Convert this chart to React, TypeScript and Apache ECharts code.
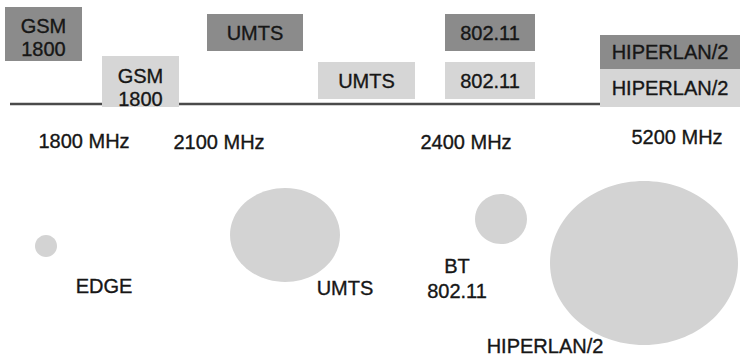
import React, { useEffect, useRef } from "react";
import * as echarts from "echarts";

// Frequency band boxes (diagram units: x 0..740, y 0..358 from top)
const boxLabels = ["GSM\n1800", "GSM\n1800", "UMTS", "UMTS", "802.11", "802.11", "HIPERLAN/2", "HIPERLAN/2"];
const boxTier = [0, 1, 0, 1, 0, 1, 0, 1]; // 0 = upper (dark), 1 = lower (light)
const boxX0 = [5, 102, 207, 318, 445, 445, 600, 600];
const boxX1 = [82, 179, 303, 415, 535, 535, 740, 740];
const boxY0 = [7, 56, 14, 62, 14, 62, 35, 69];
const boxY1 = [61, 107, 51, 99, 51, 99, 69, 107];
const boxTextY = [37, 87, 33, 81, 33, 81, 52, 88];

// Baseline
const baseX = [10, 600];
const baseY = [104, 104];

// Frequency labels
const freqLabels = ["1800 MHz", "2100 MHz", "2400 MHz", "5200 MHz"];
const freqX = [84, 219, 466, 677];
const freqY = [141, 142, 142, 137];

// Coverage cells
const cellCx = [46, 285, 501, 644];
const cellCy = [246, 235, 219, 263];
const cellRx = [11, 55, 26, 94];
const cellRy = [11, 47, 25, 82];

// Cell labels
const cellLabels = ["EDGE", "UMTS", "BT\n802.11", "HIPERLAN/2"];
const cellLabelX = [104, 345, 457, 545];
const cellLabelY = [286, 288, 278, 346];

const FONT = "'Liberation Sans', Arial, Helvetica, sans-serif";
const TEXT_COLOR = "#161616";

export default function App() {
  const ref = useRef<HTMLDivElement>(null);
  useEffect(() => {
    if (!ref.current) return;
    const chart = echarts.init(ref.current, undefined, { renderer: "svg" });
    const boxData = boxLabels.map((l, i) => [boxX0[i], boxY0[i], boxX1[i], boxY1[i], boxTier[i], boxTextY[i], i]);
    const cellData = cellCx.map((c, i) => [c, cellCy[i], cellRx[i], cellRy[i]]);
    const freqData = freqLabels.map((l, i) => [freqX[i], freqY[i], i]);
    const cellLabelData = cellLabels.map((l, i) => [cellLabelX[i], cellLabelY[i], i]);

    const textStyle = {
      align: "center",
      verticalAlign: "middle",
      fontSize: 20,
      fontFamily: FONT,
      fill: TEXT_COLOR,
      stroke: TEXT_COLOR,
      lineWidth: 0.35,
    };

    const textItem = (labels: string[]) => (params: any, api: any) => {
      const p = api.coord([api.value(0), api.value(1)]);
      const idx = api.value(2);
      return {
        type: "text",
        style: { ...textStyle, text: labels[idx], x: p[0], y: p[1], lineHeight: 25 },
      };
    };

    chart.setOption({
      animation: false,
      grid: { left: 0, right: 0, top: 0, bottom: 0 },
      xAxis: { type: "value", min: 0, max: 740, show: false },
      yAxis: { type: "value", min: 0, max: 358, inverse: true, show: false },
      series: [
        {
          type: "line",
          data: baseX.map((x, i) => [x, baseY[i]]),
          symbol: "none",
          lineStyle: { color: "#4a4a4a", width: 2.5 },
          z: 1,
          silent: true,
        },
        {
          type: "custom",
          z: 2,
          data: boxData,
          renderItem: (params: any, api: any) => {
            const a = api.coord([api.value(0), api.value(1)]);
            const b = api.coord([api.value(2), api.value(3)]);
            const t = api.coord([(api.value(0) + api.value(2)) / 2, api.value(5)]);
            const dark = api.value(4) === 0;
            return {
              type: "group",
              children: [
                {
                  type: "rect",
                  shape: { x: a[0], y: a[1], width: b[0] - a[0], height: b[1] - a[1] },
                  style: { fill: dark ? "#8b8b8b" : "#d6d6d6" },
                },
                {
                  type: "text",
                  style: { ...textStyle, text: boxLabels[api.value(6)], x: t[0], y: t[1], lineHeight: 23 },
                },
              ],
            };
          },
        },
        {
          type: "custom",
          z: 2,
          data: cellData,
          renderItem: (params: any, api: any) => {
            const c = api.coord([api.value(0), api.value(1)]);
            const s = api.size([api.value(2), api.value(3)]);
            return {
              type: "ellipse",
              shape: { cx: c[0], cy: c[1], rx: s[0], ry: s[1] },
              style: { fill: "#d3d3d3" },
            };
          },
        },
        { type: "custom", z: 3, data: freqData, renderItem: textItem(freqLabels) },
        { type: "custom", z: 3, data: cellLabelData, renderItem: textItem(cellLabels) },
      ],
    });
    return () => chart.dispose();
  }, []);
  return (
    <div
      ref={ref}
      style={{ position: "absolute", left: 0, top: 0, width: 740, height: 358, background: "#fff" }}
    />
  );
}
